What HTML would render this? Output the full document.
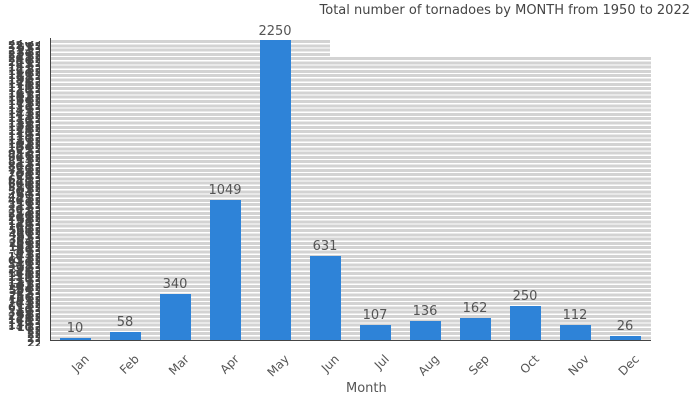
<!DOCTYPE html>
<html><head><style>
body{margin:0;width:700px;height:400px;background:#fff;position:relative;overflow:hidden;font-family:"DejaVu Sans","Liberation Sans",sans-serif;color:#555}
.grid{position:absolute;background:repeating-linear-gradient(to bottom,#d3d3d3 0,#d3d3d3 3px,#fff 3px,#fff 4.3px)}
.bar{position:absolute;background:#2e83d8;width:31px}
.lab{position:absolute;width:60px;text-align:center;font-size:13px;color:#555}
.xl{position:absolute;font-size:12px;color:#555;transform:rotate(-45deg);transform-origin:right top;text-align:right;width:40px}
pre{position:absolute;margin:0;font-size:11px;line-height:4.3px;color:#444;text-align:right;font-family:inherit;overflow:hidden;font-weight:bold}
</style></head><body>
<div style="position:absolute;right:10px;top:3px;font-size:13px;color:#444">Total number of tornadoes by MONTH from 1950 to 2022</div>
<div class="grid" style="left:51px;top:40px;width:279px;height:17px"></div>
<div class="grid" style="left:51px;top:57px;width:600px;height:283px"></div>
<div style="position:absolute;left:50px;top:38px;width:1px;height:303px;background:#444"></div>
<div style="position:absolute;left:50px;top:339.5px;width:601px;height:1px;background:#444"></div>
<div style="position:absolute;left:10px;top:295px;font-size:13px;color:#555;transform:rotate(-90deg);transform-origin:left top">Number</div>
<pre style="left:8px;top:40px;width:16px;height:290px">2250
2200
2150
2100
2050
2000
1950
1900
1850
1800
1750
1700
1650
1600
1550
1500
1450
1400
1350
1300
1250
1200
1150
1100
1050
1000
950
900
850
800
750
700
650
600
550
500
450
400
350
300
250
200
150
100
50
40
30
20
10
0
1049
631
340
250
162
136
112
107
58
26
10
1049
631
340
250
162
136
112
107</pre>
<pre style="left:17px;top:42px;width:14px;height:305px">1049
631
340
250
162
136
112
107
58
26
10
1049
631
340
250
162
136
112
107
58
26
10
1049
631
340
250
162
136
112
107
58
26
10
1049
631
340
250
162
136
112
107
58
26
10
1049
631
340
250
162
136
112
107
58
26
10
1049
631
340
250
162
136
112
107
58
26
10
10</pre>
<pre style="left:27px;top:41px;width:13px;height:305px">2250
2250
2250
2250
2250
2250
2250
2250
2250
2250
2250
2250
2250
2250
2250
2250
2250
2250
2250
2250
2250
2250
2250
2250
2250
2250
2250
2250
2250
2250
2250
2250
2250
2250
2250
2250
2250
2250
2250
2250
2250
2250
2250
2250
2250
2250
2250
2250
2250
2250
2250
2250
2250
2250
2250
2250
2250
2250
2250
2250
2250
2250
2250
2250
2250
2250
2250
2250
2250
2250
2250</pre>
<div class="bar" style="left:60px;top:338px;height:2px"></div><div class="lab" style="left:45px;top:321px">10</div>
<div class="bar" style="left:110px;top:332px;height:8px"></div><div class="lab" style="left:95px;top:315px">58</div>
<div class="bar" style="left:160px;top:294px;height:46px"></div><div class="lab" style="left:145px;top:277px">340</div>
<div class="bar" style="left:210px;top:200px;height:140px"></div><div class="lab" style="left:195px;top:183px">1049</div>
<div class="bar" style="left:260px;top:40px;height:300px"></div><div class="lab" style="left:245px;top:24px">2250</div>
<div class="bar" style="left:310px;top:256px;height:84px"></div><div class="lab" style="left:295px;top:239px">631</div>
<div class="bar" style="left:360px;top:325px;height:15px"></div><div class="lab" style="left:345px;top:308px">107</div>
<div class="bar" style="left:410px;top:321px;height:19px"></div><div class="lab" style="left:395px;top:304px">136</div>
<div class="bar" style="left:460px;top:318px;height:22px"></div><div class="lab" style="left:445px;top:301px">162</div>
<div class="bar" style="left:510px;top:306px;height:34px"></div><div class="lab" style="left:495px;top:289px">250</div>
<div class="bar" style="left:560px;top:325px;height:15px"></div><div class="lab" style="left:545px;top:308px">112</div>
<div class="bar" style="left:610px;top:336px;height:4px"></div><div class="lab" style="left:595px;top:319px">26</div>
<div class="xl" style="left:42px;top:352px">Jan</div>
<div class="xl" style="left:92px;top:352px">Feb</div>
<div class="xl" style="left:142px;top:352px">Mar</div>
<div class="xl" style="left:192px;top:352px">Apr</div>
<div class="xl" style="left:242px;top:352px">May</div>
<div class="xl" style="left:292px;top:352px">Jun</div>
<div class="xl" style="left:342px;top:352px">Jul</div>
<div class="xl" style="left:392px;top:352px">Aug</div>
<div class="xl" style="left:442px;top:352px">Sep</div>
<div class="xl" style="left:492px;top:352px">Oct</div>
<div class="xl" style="left:542px;top:352px">Nov</div>
<div class="xl" style="left:592px;top:352px">Dec</div>
<div style="position:absolute;left:346px;top:381px;font-size:13px;color:#555">Month</div>
</body></html>
